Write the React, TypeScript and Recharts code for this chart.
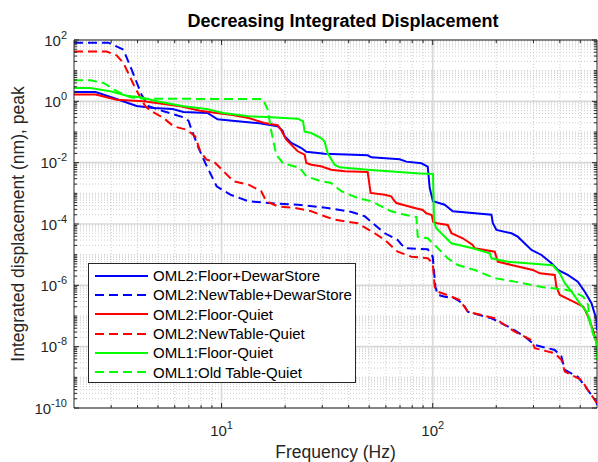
import React from 'react';
import { LineChart, Line, XAxis, YAxis, CartesianGrid, ReferenceLine, Legend, Label } from 'recharts';

const FONT = "'Liberation Sans', Arial, Helvetica, sans-serif";
const AXIS = '#262626';

// Layout constants (pixels)
const W = 598;
const H = 462;
const PLOT_TOP = 40;
const PLOT_RIGHT = 597;
const MAJOR_TICK = 5;
const MINOR_TICK = 3;

// Frequency axis
const X_DOMAIN: [number, number] = [2, 600];
const xMajor = [10, 100];
const xMinor = [3, 4, 5, 6, 7, 8, 9, 20, 30, 40, 50, 60, 70, 80, 90, 200, 300, 400, 500];

// Displacement axis (labelled every two decades)
const Y_DOMAIN: [number, number] = [1e-10, 100];
const yMajor = [1e-10, 1e-8, 1e-6, 1e-4, 1e-2, 1, 100];

// OML2: Floor + DewarStore
const floorDewarFreq = [2, 2.53, 3.08, 3.96, 4.76, 5.86, 6.6, 8.58, 9.57, 11.27, 15.14, 18.43, 19.46, 19.88, 21.4, 23.88, 25.2, 30.77, 49.2, 51.2, 69.8, 75, 88.4, 94.7, 96.8, 100.3, 114, 124.4, 189.8, 192.5, 200.4, 236, 252.8, 293.7, 327.5, 365.3, 391.3, 436.4, 486.7, 525.3, 565.1, 597, 600];
const floorDewarDisp = [2.02, 2.02, 1.285, 0.705, 0.607, 0.562, 0.449, 0.417, 0.26, 0.234, 0.192, 0.1535, 0.11, 0.0724, 0.0438, 0.0301, 0.0228, 0.0196, 0.0174, 0.015, 0.0129, 0.0108, 0.00954, 0.0074, 0.00149, 0.00055, 0.000426, 0.00026, 0.000201, 0.000108, 6.38e-5, 4.98e-5, 3.86e-5, 1.42e-5, 9.77e-6, 5.24e-6, 3.17e-6, 2.18e-6, 1.32e-6, 6.21e-7, 2.6e-7, 7.42e-8, 3.5e-8];

// OML2: NewTable + DewarStore
const tableDewarFreq = [2, 2.91, 3.43, 3.75, 4.18, 4.51, 5.31, 6.6, 6.97, 7.21, 7.78, 8.37, 9.47, 11.0, 13.43, 18.43, 22.93, 31.8, 41.3, 47.6, 51.9, 59.3, 68.3, 73.7, 94.7, 100, 103, 105.6, 114, 127.2, 138.8, 146.6, 189.8, 236, 272.9, 304.4, 378.7, 407.4, 422.3, 486.7, 542.7, 597, 600];
const tableDewarDisp = [82, 82, 48.3, 10.76, 1.646, 0.689, 0.473, 0.302, 0.234, 0.119, 0.0301, 0.00976, 0.0017, 0.000903, 0.00055, 0.00046, 0.000426, 0.000333, 0.000247, 0.000179, 0.000108, 4.98e-5, 3.01e-5, 1.62e-5, 1.5e-5, 8.6e-6, 9.04e-7, 4.85e-7, 4.27e-7, 3.78e-7, 2.6e-7, 1.38e-7, 8.43e-8, 3.98e-8, 2.12e-8, 1.14e-8, 7.8e-9, 4.72e-9, 1.74e-9, 1.05e-9, 3.87e-10, 1.61e-10, 1.26e-10];

// OML2: Floor, quiet
const floorQuietFreq = [2, 2.53, 3.18, 4.27, 6.39, 7.92, 9.47, 11.27, 13.43, 15.97, 18.43, 19.13, 20.25, 22.93, 24.74, 25.2, 26.61, 29.6, 33.0, 38.3, 49.2, 50.8, 59.3, 63.6, 66.1, 67.3, 82.2, 89.7, 93.3, 98.9, 100.5, 104.8, 117.8, 122.7, 138.8, 154.7, 158.2, 196.7, 203.3, 236, 297.9, 321.5, 378.7, 385, 399.9, 446, 517, 544.5, 575, 597, 600];
const floorQuietDisp = [1.66, 1.66, 1.13, 1.0, 0.689, 0.495, 0.417, 0.359, 0.286, 0.1967, 0.1655, 0.119, 0.0561, 0.0235, 0.0182, 0.00976, 0.0086, 0.00762, 0.0059, 0.00524, 0.00497, 0.00103, 0.000903, 0.0008, 0.00055, 0.000484, 0.000333, 0.000286, 0.000224, 0.000197, 0.000119, 0.000106, 9.29e-5, 4.98e-5, 3.42e-5, 2.07e-5, 1.62e-5, 1.25e-5, 5.91e-6, 4.61e-6, 3.17e-6, 2.47e-6, 2.18e-6, 9.04e-7, 4.85e-7, 3.33e-7, 2.02e-7, 9.5e-8, 3.5e-8, 1.29e-8, 1.0e-8];

// OML2: NewTable, quiet
const tableQuietFreq = [2, 2.85, 3.18, 3.43, 3.9, 4.35, 4.66, 5.31, 5.92, 6.82, 7.5, 7.92, 8.49, 9.17, 10.22, 11.4, 13.43, 15.41, 16.29, 18.43, 22.2, 26.61, 30.77, 34.3, 44.1, 53.1, 59.3, 68.3, 79.3, 94.7, 100, 102.2, 105.6, 122.7, 134.3, 146.6, 196.7, 244.7, 293.7, 304.4, 378.7, 407.4, 422.3, 506.7, 542.7, 600];
const tableQuietDisp = [42, 42, 31.7, 17.8, 2.72, 0.689, 0.473, 0.286, 0.1535, 0.119, 0.0724, 0.0235, 0.0125, 0.0111, 0.00524, 0.00247, 0.00191, 0.00117, 0.00055, 0.000378, 0.000333, 0.00026, 0.000179, 0.000138, 0.000106, 4.98e-5, 3.01e-5, 1.25e-5, 8.6e-6, 7.62e-6, 5.24e-6, 9.04e-7, 6.21e-7, 4.27e-7, 3.33e-7, 1.38e-7, 8.43e-8, 3.08e-8, 1.65e-8, 8.87e-9, 6.09e-9, 3.68e-9, 1.53e-9, 8.2e-10, 3.87e-10, 1.43e-10];

// OML1: Floor, quiet
const oml1FloorFreq = [2, 2.39, 2.97, 3.56, 4.12, 4.94, 6.6, 8.5, 10.22, 13.43, 17.2, 22.93, 24.3, 24.74, 26.61, 29.6, 30.77, 31.8, 34.3, 36.2, 49.2, 86.8, 100.3, 101.5, 104, 114, 122.7, 154.7, 186.3, 189.8, 226.7, 358.5, 370.5, 399.9, 422.3, 454.4, 497.4, 535.1, 554.7, 575, 597, 600];
const oml1FloorDisp = [2.72, 2.72, 2.12, 1.53, 1.354, 1.0, 0.689, 0.562, 0.417, 0.325, 0.302, 0.272, 0.2235, 0.1023, 0.0928, 0.0638, 0.049, 0.0202, 0.0086, 0.00707, 0.0059, 0.0044, 0.00427, 0.000116, 7.25e-5, 3.86e-5, 2.35e-5, 1.62e-5, 1.11e-5, 7.62e-6, 5.91e-6, 4.61e-6, 4.5e-6, 2.47e-6, 1.17e-6, 6.21e-7, 2.6e-7, 1.38e-7, 7.42e-8, 2.73e-8, 1.29e-8, 3.68e-9];

// OML1: Old Table, quiet
const oml1TableFreq = [2, 2.39, 2.76, 3.2, 3.7, 4.27, 15.69, 16.55, 17.2, 18.16, 19.5, 23.43, 25.2, 29.6, 33.0, 36.9, 44.1, 51.2, 57.1, 63.6, 73.7, 82.2, 83.7, 84.9, 94.7, 102.2, 117.8, 131.4, 158.2, 196.7, 244.7, 333.3, 370.5, 414.5, 446, 479.8, 517, 544.5, 551.7, 567, 600];
const oml1TableDisp = [4.85, 4.85, 3.96, 2.12, 1.354, 1.22, 1.18, 0.534, 0.1055, 0.0182, 0.00976, 0.0067, 0.0036, 0.00247, 0.00218, 0.00117, 0.000705, 0.00055, 0.000378, 0.00026, 0.000201, 0.000173, 0.00017, 3.86e-5, 3.42e-5, 2.07e-5, 7.62e-6, 4.61e-6, 3.17e-6, 1.7e-6, 1.32e-6, 8.65e-7, 8.01e-7, 7.44e-7, 6.7e-7, 5.51e-7, 4.27e-7, 2.29e-7, 7.42e-8, 3.5e-8, 1.14e-8];

const DASH = '9 5';

const zip = (f: number[], v: number[]) => f.map((x, i) => ({ f: x, v: v[i] }));

const SERIES = [
  { name: 'OML2:Floor+DewarStore', color: '#0000ff', dash: undefined as string | undefined, data: zip(floorDewarFreq, floorDewarDisp) },
  { name: 'OML2:NewTable+DewarStore', color: '#0000ff', dash: DASH, data: zip(tableDewarFreq, tableDewarDisp) },
  { name: 'OML2:Floor-Quiet', color: '#ff0000', dash: undefined, data: zip(floorQuietFreq, floorQuietDisp) },
  { name: 'OML2:NewTable-Quiet', color: '#ff0000', dash: DASH, data: zip(tableQuietFreq, tableQuietDisp) },
  { name: 'OML1:Floor-Quiet', color: '#00ff00', dash: undefined, data: zip(oml1FloorFreq, oml1FloorDisp) },
  { name: 'OML1:Old Table-Quiet', color: '#00ff00', dash: DASH, data: zip(oml1TableFreq, oml1TableDisp) },
];

// Minor log ticks: 2..9 of every decade, plus the odd decades
const yMinor: number[] = [];
for (let d = -10; d <= 1; d++) {
  for (let k = 1; k <= 9; k++) {
    if (k === 1 && d % 2 === 0) continue;
    yMinor.push(k * Math.pow(10, d));
  }
}
const xTicks = [...xMinor, ...xMajor].sort((a, b) => a - b);
const yTicks = [...yMinor, ...yMajor].sort((a, b) => a - b);

const isMajorY = (v: number) => yMajor.some((m) => Math.abs(Math.log10(v) - Math.log10(m)) < 1e-6);
const expOf = (v: number) => Math.round(Math.log10(v));

const TICK_FONT = 15;
const SUP_FONT = 11;

const XTick = (props: any) => {
  const { x, y, payload } = props;
  const v = payload.value;
  const major = xMajor.includes(v);
  const len = major ? MAJOR_TICK : MINOR_TICK;
  return (
    <g>
      <line x1={x} y1={y} x2={x} y2={y - len} stroke={AXIS} strokeWidth={1} />
      <line x1={x} y1={PLOT_TOP} x2={x} y2={PLOT_TOP + len} stroke={AXIS} strokeWidth={1} />
      {major && (
        <text x={x} y={y + 28} textAnchor="middle" fill={AXIS} fontFamily={FONT} fontSize={TICK_FONT}>
          <tspan>10</tspan>
          <tspan dy={-7} fontSize={SUP_FONT}>{expOf(v)}</tspan>
        </text>
      )}
    </g>
  );
};

const YTick = (props: any) => {
  const { x, y, payload } = props;
  const v = payload.value;
  const major = isMajorY(v);
  const len = major ? MAJOR_TICK : MINOR_TICK;
  return (
    <g>
      <line x1={x} y1={y} x2={x + len} y2={y} stroke={AXIS} strokeWidth={1} />
      <line x1={PLOT_RIGHT} y1={y} x2={PLOT_RIGHT - len} y2={y} stroke={AXIS} strokeWidth={1} />
      {major && (
        <text x={x - 7} y={y + 5.5} textAnchor="end" fill={AXIS} fontFamily={FONT} fontSize={TICK_FONT}>
          <tspan>10</tspan>
          <tspan dy={-7} fontSize={SUP_FONT}>{expOf(v)}</tspan>
        </text>
      )}
    </g>
  );
};

const YAxisTitle = (props: any) => {
  const vb = props.viewBox || { x: 0, y: PLOT_TOP, width: 74, height: 368 };
  const cx = 23.5;
  const cy = vb.y + vb.height / 2;
  return (
    <text x={cx} y={cy} transform={`rotate(-90, ${cx}, ${cy})`} textAnchor="middle" fill={AXIS} fontFamily={FONT} fontSize={17.5}>
      Integrated displacement (nm), peak
    </text>
  );
};

const XAxisTitle = (props: any) => {
  const vb = props.viewBox || { x: 74, y: 408, width: 523, height: 54 };
  return (
    <text x={vb.x + vb.width / 2} y={vb.y + 50} textAnchor="middle" fill={AXIS} fontFamily={FONT} fontSize={17.5}>
      Frequency (Hz)
    </text>
  );
};

const LegendBox = () => (
  <div
    style={{
      boxSizing: 'border-box',
      width: 268,
      height: 120,
      border: `1px solid ${AXIS}`,
      background: '#ffffff',
      paddingTop: 2,
      fontFamily: FONT,
      fontSize: 15,
      color: '#000',
    }}
  >
    {SERIES.map((s) => (
      <div key={s.name} style={{ display: 'flex', alignItems: 'center', height: 19.3, whiteSpace: 'nowrap' }}>
        <svg width={58} height={10} style={{ marginLeft: 6, flex: 'none' }}>
          <line x1={0} y1={5} x2={53} y2={5} stroke={s.color} strokeWidth={2} strokeDasharray={s.dash} />
        </svg>
        <span>{s.name}</span>
      </div>
    ))}
  </div>
);

export default function App() {
  return (
    <div style={{ position: 'absolute', left: 0, top: 0, width: W, height: H, background: '#fff' }}>
      <div
        style={{
          position: 'absolute',
          left: 143,
          top: 11.5,
          width: 400,
          textAlign: 'center',
          fontFamily: FONT,
          fontWeight: 'bold',
          fontSize: 18,
          lineHeight: '18px',
          color: '#000',
          zIndex: 2,
        }}
      >
        Decreasing Integrated Displacement
      </div>
      <LineChart width={W} height={H} margin={{ top: PLOT_TOP, right: W - PLOT_RIGHT, bottom: 0, left: 0 }}>
        <CartesianGrid horizontalValues={yMinor} verticalValues={xMinor} stroke="#cdcdcd" strokeDasharray="1 2" strokeWidth={1} />
        <CartesianGrid horizontalValues={yMajor} verticalValues={xMajor} stroke="#d8d8d8" strokeWidth={1.6} />
        <XAxis
          dataKey="f"
          type="number"
          scale="log"
          domain={X_DOMAIN}
          allowDataOverflow
          ticks={xTicks}
          interval={0}
          tick={<XTick />}
          tickLine={false}
          tickSize={0}
          tickMargin={0}
          height={54}
          axisLine={{ stroke: AXIS, strokeWidth: 1 }}
        >
          <Label content={<XAxisTitle />} />
        </XAxis>
        <YAxis
          type="number"
          scale="log"
          domain={Y_DOMAIN}
          allowDataOverflow
          ticks={yTicks}
          interval={0}
          tick={<YTick />}
          tickLine={false}
          tickSize={0}
          tickMargin={0}
          width={74}
          axisLine={{ stroke: AXIS, strokeWidth: 1 }}
        >
          <Label content={<YAxisTitle />} />
        </YAxis>
        <ReferenceLine y={Y_DOMAIN[1]} stroke={AXIS} strokeWidth={1} />
        <ReferenceLine x={X_DOMAIN[1]} stroke={AXIS} strokeWidth={1} />
        {SERIES.map((s) => (
          <Line
            key={s.name}
            name={s.name}
            data={s.data}
            dataKey="v"
            type="linear"
            stroke={s.color}
            strokeWidth={2}
            strokeDasharray={s.dash}
            dot={false}
            activeDot={false}
            isAnimationActive={false}
          />
        ))}
        <Legend
          layout="horizontal"
          align="center"
          verticalAlign="middle"
          content={<LegendBox />}
          wrapperStyle={{ left: 88, top: 263, width: 268, height: 120 }}
        />
      </LineChart>
    </div>
  );
}
